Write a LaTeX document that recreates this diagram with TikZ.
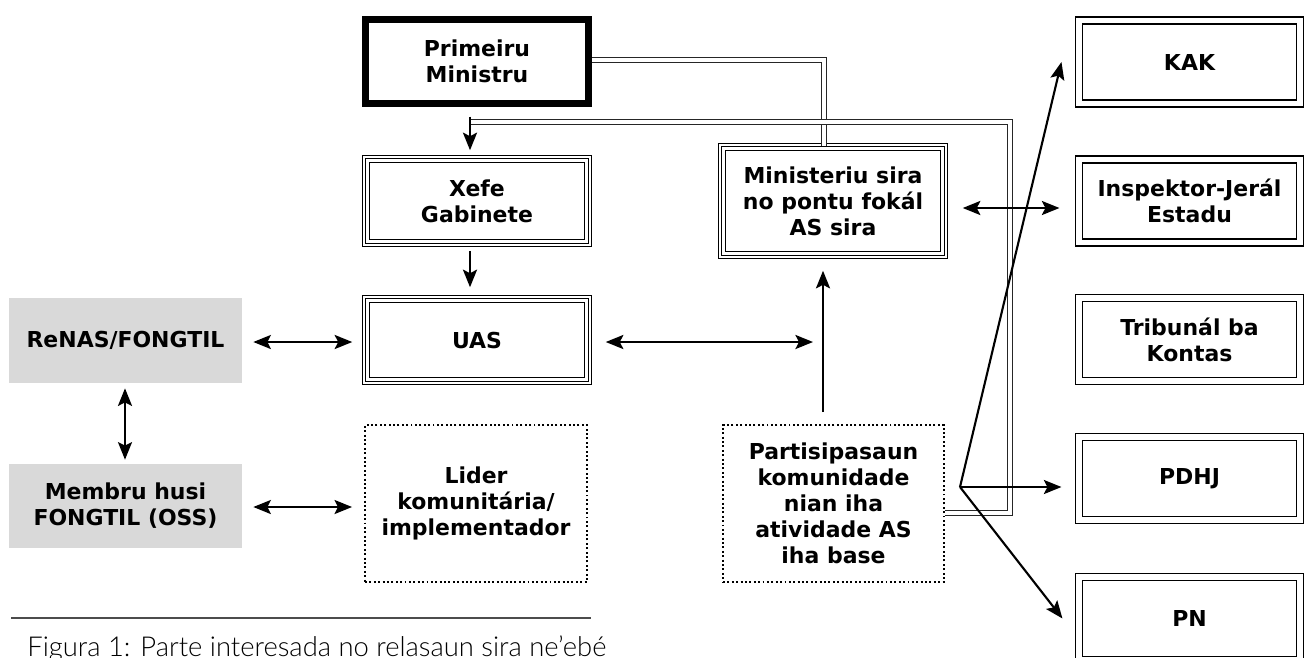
\documentclass[tikz,border=0pt]{standalone}
\usepackage{fontspec}
\setmainfont{DejaVu Sans}
\IfFontExistsTF{Lato Light}{\newfontfamily\capfont{Lato Light}}{\newfontfamily\capfont{Lato}}
\usetikzlibrary{arrows.meta}

\tikzset{
  box/.style={rectangle, inner sep=0pt, align=center, font=\bfseries\fontsize{12.5}{14.8}\selectfont, minimum width=4.45cm},
  chief/.style={box, draw, line width=4pt, minimum width=4.46cm, minimum height=1.68cm},
  triple/.style={box, draw, line width=0.6pt, preaction={draw, line width=4.34pt}, preaction={draw=white, line width=3.14pt}},
  twin/.style={box, draw, line width=0.65pt, double, double distance=3.3pt, minimum width=4.42cm, minimum height=1.66cm},
  dots/.style={box, draw, line width=1.1pt, dash pattern=on 1.1pt off 1.4pt, minimum width=4.44cm, minimum height=3.14cm},
  greybox/.style={box, fill=gray!30, minimum width=4.66cm, minimum height=1.7cm},
  oneway/.style={-{Stealth[length=10pt,width=8pt,inset=2pt]}, line width=1.2pt},
  twoway/.style={{Stealth[length=10pt,width=8pt,inset=2pt]}-{Stealth[length=10pt,width=8pt,inset=2pt]}, line width=1.2pt},
  pipe/.style={draw=black!85, double=white, double distance=1.8pt, line width=0.6pt}
}

\begin{document}
\begin{tikzpicture}[x=0.02cm, y=-0.02cm]
\useasboundingbox (0,0) rectangle (1308,657);

% Centre column
\node[chief] (prime) at (477,61.5) {Primeiru\\Ministru};
\node[triple, minimum height=1.69cm] (xefe) at (477,201) {Xefe\\Gabinete};
\node[triple, minimum height=1.65cm] (uas) at (477,340) {UAS};
\node[dots] (lider) at (476,503.5) {Lider\\komunitária/\\implementador};

% Ministries and community
\node[triple, minimum height=2.17cm] (minis) at (833,201) {Ministeriu sira\\no pontu fokál\\AS sira};
\node[dots, minimum width=4.42cm] (parti) at (833.5,503.5) {Partisipasaun\\komunidade\\nian iha\\atividade AS\\iha base};

% Civil society
\node[greybox] (renas) at (125.5,340.5) {ReNAS/FONGTIL};
\node[greybox, minimum height=1.68cm] (membru) at (125.5,506) {Membru husi\\FONGTIL (OSS)};

% Oversight bodies
\node[twin] (kak) at (1189.5,62) {KAK};
\node[twin] (insp) at (1189.5,201) {Inspektor-Jerál\\Estadu};
\node[twin] (trib) at (1189.5,339.5) {Tribunál ba\\Kontas};
\node[twin] (pdhj) at (1189.5,478.5) {PDHJ};
\node[twin] (pn) at (1189.5,618.5) {PN};

% Double lines
\coordinate (pm) at (470,122);
\coordinate (bend) at (1010,513);
\draw[pipe] ([yshift=0.03cm]prime.east) -| ([xshift=-0.18cm]minis.north);
\draw[pipe] (pm) -| (bend) -- (bend -| parti.east);

% Hierarchy
\draw[oneway, shorten <=0.19cm, shorten >=0.16cm] ([xshift=-0.14cm]prime.south) -- ([xshift=-0.14cm]xefe.north);
\draw[oneway, shorten <=0.14cm, shorten >=0.22cm] ([xshift=-0.14cm]xefe.south) -- ([xshift=-0.14cm]uas.north);

% Left links
\draw[twoway, shorten <=0.22cm, shorten >=0.26cm] ([yshift=-0.03cm]renas.east) -- ([yshift=-0.03cm]renas.east -| uas.west);
\draw[twoway, shorten <=0.1cm, shorten >=0.08cm] ([xshift=-0.01cm]renas.south) -- ([xshift=-0.01cm]membru.north);
\draw[twoway, shorten <=0.22cm, shorten >=0.24cm] ([yshift=-0.02cm]membru.east) -- ([yshift=-0.02cm]membru.east -| lider.west);

% UAS, community and ministries
\coordinate (stem) at ([xshift=-0.21cm]parti.north);
\draw[oneway, shorten <=0.24cm, shorten >=0.3cm] (stem) -- (stem |- minis.south);
\draw[twoway, shorten <=0.34cm, shorten >=0.2cm] ([yshift=-0.04cm]uas.east) -- ([yshift=-0.04cm]uas.east -| stem);
\draw[twoway, shorten <=0.36cm, shorten >=0.38cm] ([yshift=-0.14cm]minis.east) -- ([yshift=-0.14cm]minis.east -| insp.west);

% Fan to oversight bodies
\coordinate (fan) at (960,487);
\draw[oneway] (fan) -- ([xshift=-0.34cm]kak.west);
\draw[oneway, shorten >=0.34cm] (fan) -- (fan -| pdhj.west);
\draw[oneway] (fan) -- ([xshift=-0.32cm]pn.west);

% Caption
\draw[line width=1pt, black!70] (11,618) -- (591,618);
\node[anchor=base west, inner sep=0pt, font=\capfont\fontsize{15.6}{18}\selectfont] (caption) at (27,656) {Figura 1: Parte interesada no relasaun sira ne’ebé};
\end{tikzpicture}
\end{document}
